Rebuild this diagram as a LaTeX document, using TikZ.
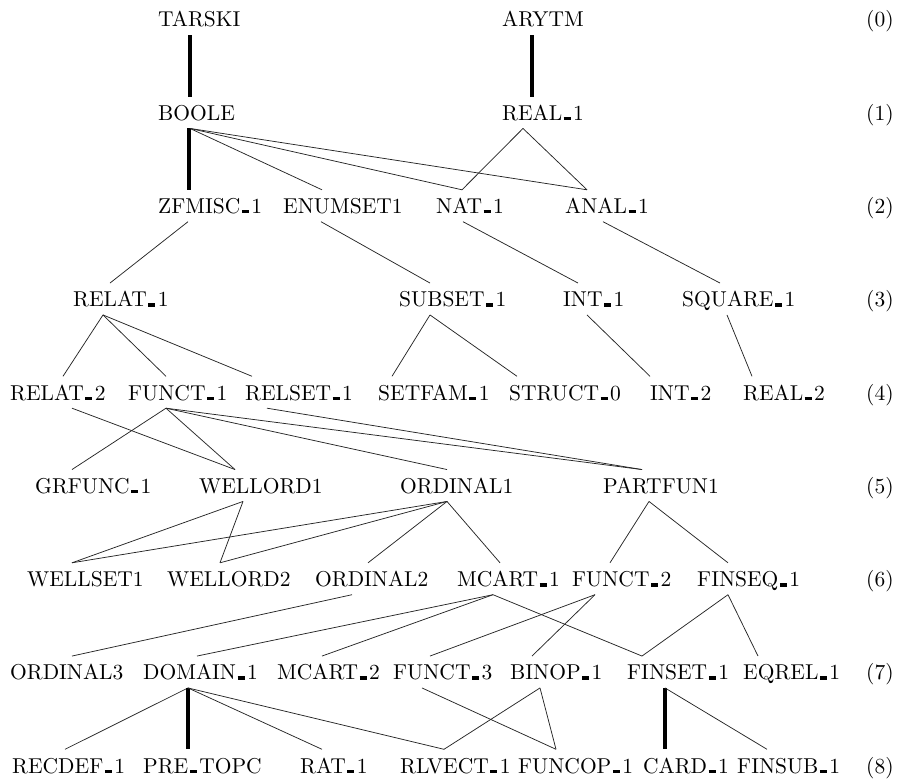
\documentclass[tikz,border=0pt]{standalone}
\usepackage{fontspec}
\newfontfamily\tenrm{lmroman10-regular.otf}
\newcommand{\ubar}{\kern1.5pt\rule{7pt}{3.5pt}\kern2.5pt}
\tikzset{art/.style = {anchor=base west, inner sep=0pt, text height=23.5pt, text depth=8pt,
                       font=\tenrm\fontsize{21.5}{25}\selectfont},
         link/.style = {line width=0.75pt, black!85},
         spine/.style = {line width=3.8pt}}

\begin{document}
\begin{tikzpicture}[x=1pt, y=-1pt]
    \useasboundingbox (0, 0) rectangle (904, 783);
    \foreach \k in {0,...,8}
      \node [art] (lv\k) at (866, 27+93.25*\k) {(\k)};

    \node [art] (tarski) at (158, 27) {TARSKI};
    \node [art] (arytm) at (502, 27) {ARYTM};

    \node [art] (boole) at (158, 120.25) {BOOLE};
    \node [art] (real1) at (502, 120.25) {REAL\ubar 1};

    \node [art] (zfmisc1) at (158, 213.5) {ZFMISC\ubar 1};
    \node [art] (enumset1) at (283, 213.5) {ENUMSET1};
    \node [art] (nat1) at (436, 213.5) {NAT\ubar 1};
    \node [art] (anal1) at (565, 213.5) {ANAL\ubar 1};

    \node [art] (relat1) at (73, 306.75) {RELAT\ubar 1};
    \node [art] (subset1) at (399, 306.75) {SUBSET\ubar 1};
    \node [art] (int1) at (563, 306.75) {INT\ubar 1};
    \node [art] (square1) at (682, 306.75) {SQUARE\ubar 1};

    \node [art] (relat2) at (10, 400) {RELAT\ubar 2};
    \node [art] (funct1) at (128, 400) {FUNCT\ubar 1};
    \node [art] (relset1) at (245, 400) {RELSET\ubar 1};
    \node [art] (setfam1) at (378, 400) {SETFAM\ubar 1};
    \node [art] (struct0) at (509, 400) {STRUCT\ubar 0};
    \node [art] (int2) at (650, 400) {INT\ubar 2};
    \node [art] (real2) at (743, 400) {REAL\ubar 2};

    \node [art] (grfunc1) at (35, 493.25) {GRFUNC\ubar 1};
    \node [art] (wellord1) at (199, 493.25) {WELLORD1};
    \node [art] (ordinal1) at (400, 493.25) {ORDINAL1};
    \node [art] (partfun1) at (603, 493.25) {PARTFUN1};

    \node [art] (wellset1) at (27, 586.5) {WELLSET1};
    \node [art] (wellord2) at (167, 586.5) {WELLORD2};
    \node [art] (ordinal2) at (315, 586.5) {ORDINAL2};
    \node [art] (mcart1) at (457, 586.5) {MCART\ubar 1};
    \node [art] (funct2) at (572, 586.5) {FUNCT\ubar 2};
    \node [art] (finseq1) at (697, 586.5) {FINSEQ\ubar 1};

    \node [art] (ordinal3) at (10, 679.75) {ORDINAL3};
    \node [art] (domain1) at (143, 679.75) {DOMAIN\ubar 1};
    \node [art] (mcart2) at (277, 679.75) {MCART\ubar 2};
    \node [art] (funct3) at (393, 679.75) {FUNCT\ubar 3};
    \node [art] (binop1) at (510, 679.75) {BINOP\ubar 1};
    \node [art] (finset1) at (627, 679.75) {FINSET\ubar 1};
    \node [art] (eqrel1) at (743, 679.75) {EQREL\ubar 1};

    \node [art] (recdef1) at (12, 773) {RECDEF\ubar 1};
    \node [art] (pretopc) at (143, 773) {PRE\ubar TOPC};
    \node [art] (rat1) at (300, 773) {RAT\ubar 1};
    \node [art] (rlvect1) at (400, 773) {RLVECT\ubar 1};
    \node [art] (funcop1) at (518, 773) {FUNCOP\ubar 1};
    \node [art] (card1) at (643, 773) {CARD\ubar 1};
    \node [art] (finsub1) at (737, 773) {FINSUB\ubar 1};

    % (0) -> (1)
    \draw [spine] ([xshift=32pt]tarski.south west) -- ([xshift=32pt]boole.north west);
    \draw [spine] ([xshift=30pt]arytm.south west) -- ([xshift=30pt]real1.north west);

    % (1) -> (2)
    \draw [spine] ([xshift=31pt]boole.south west) -- ([xshift=31pt]zfmisc1.north west);
    \draw [link] ([xshift=32pt]boole.south west) -- ([xshift=39pt]enumset1.north west);
    \draw [link] ([xshift=32pt]boole.south west) -- ([xshift=26pt]nat1.north west);
    \draw [link] ([xshift=32pt]boole.south west) -- ([xshift=22pt]anal1.north west);
    \draw [link] ([xshift=21pt]real1.south west) -- ([xshift=26pt]nat1.north west);
    \draw [link] ([xshift=21pt]real1.south west) -- ([xshift=22pt]anal1.north west);

    % (2) -> (3)
    \draw [link] ([xshift=30pt]zfmisc1.south west) -- ([xshift=37pt]relat1.north west);
    \draw [link] ([xshift=38pt]enumset1.south west) -- ([xshift=31pt]subset1.north west);
    \draw [link] ([xshift=27pt]nat1.south west) -- ([xshift=15pt]int1.north west);
    \draw [link] ([xshift=38pt]anal1.south west) -- ([xshift=38pt]square1.north west);

    % (3) -> (4)
    \draw [link] ([xshift=30pt]relat1.south west) -- ([xshift=53pt]relat2.north west);
    \draw [link] ([xshift=30pt]relat1.south west) -- ([xshift=38pt]funct1.north west);
    \draw [link] ([xshift=30pt]relat1.south west) -- ([xshift=7pt]relset1.north west);
    \draw [link] ([xshift=31pt]subset1.south west) -- ([xshift=14pt]setfam1.north west);
    \draw [link] ([xshift=31pt]subset1.south west) -- ([xshift=8pt]struct0.north west);
    \draw [link] ([xshift=24pt]int1.south west) -- (int2.north west);
    \draw [link] ([xshift=45pt]square1.south west) -- ([xshift=9pt]real2.north west);

    % (4) -> (5)
    \draw [link] ([xshift=62pt]relat2.south west) -- ([xshift=36pt]wellord1.north west);
    \draw [link] ([xshift=38pt]funct1.south west) -- ([xshift=37pt]grfunc1.north west);
    \draw [link] ([xshift=38pt]funct1.south west) -- ([xshift=36pt]wellord1.north west);
    \draw [link] ([xshift=38pt]funct1.south west) -- ([xshift=47pt]ordinal1.north west);
    \draw [link] ([xshift=38pt]funct1.south west) -- ([xshift=39pt]partfun1.north west);
    \draw [link] ([xshift=22pt]relset1.south west) -- ([xshift=39pt]partfun1.north west);

    % (5) -> (6)
    \draw [link] ([xshift=44pt]wellord1.south west) -- ([xshift=45pt]wellset1.north west);
    \draw [link] ([xshift=44pt]wellord1.south west) -- ([xshift=53pt]wellord2.north west);
    \draw [link] ([xshift=47pt]ordinal1.south west) -- ([xshift=45pt]wellset1.north west);
    \draw [link] ([xshift=47pt]ordinal1.south west) -- ([xshift=53pt]wellord2.north west);
    \draw [link] ([xshift=47pt]ordinal1.south west) -- ([xshift=53pt]ordinal2.north west);
    \draw [link] ([xshift=47pt]ordinal1.south west) -- ([xshift=43pt]mcart1.north west);
    \draw [link] ([xshift=46pt]partfun1.south west) -- ([xshift=38pt]funct2.north west);
    \draw [link] ([xshift=46pt]partfun1.south west) -- ([xshift=31pt]finseq1.north west);

    % (6) -> (7)
    \draw [link] ([xshift=37pt]ordinal2.south west) -- ([xshift=62pt]ordinal3.north west);
    \draw [link] ([xshift=36pt]mcart1.south west) -- ([xshift=54pt]domain1.north west);
    \draw [link] ([xshift=36pt]mcart1.south west) -- ([xshift=45pt]mcart2.north west);
    \draw [link] ([xshift=36pt]mcart1.south west) -- ([xshift=15pt]finset1.north west);
    \draw [link] ([xshift=23pt]funct2.south west) -- ([xshift=37pt]funct3.north west);
    \draw [link] ([xshift=23pt]funct2.south west) -- ([xshift=22pt]binop1.north west);
    \draw [link] ([xshift=31pt]finseq1.south west) -- ([xshift=15pt]finset1.north west);
    \draw [link] ([xshift=31pt]finseq1.south west) -- ([xshift=15pt]eqrel1.north west);

    % (7) -> (8)
    \draw [link] ([xshift=45pt]domain1.south west) -- ([xshift=53pt]recdef1.north west);
    \draw [spine] ([xshift=45pt]domain1.south west) -- ([xshift=45pt]pretopc.north west);
    \draw [link] ([xshift=45pt]domain1.south west) -- ([xshift=22pt]rat1.north west);
    \draw [link] ([xshift=45pt]domain1.south west) -- ([xshift=44pt]rlvect1.north west);
    \draw [link] ([xshift=29pt]funct3.south west) -- ([xshift=38pt]funcop1.north west);
    \draw [link] ([xshift=30pt]binop1.south west) -- ([xshift=44pt]rlvect1.north west);
    \draw [link] ([xshift=30pt]binop1.south west) -- ([xshift=38pt]funcop1.north west);
    \draw [spine] ([xshift=38pt]finset1.south west) -- ([xshift=22pt]card1.north west);
    \draw [link] ([xshift=38pt]finset1.south west) -- ([xshift=30pt]finsub1.north west);
  \end{tikzpicture}
\end{document}
